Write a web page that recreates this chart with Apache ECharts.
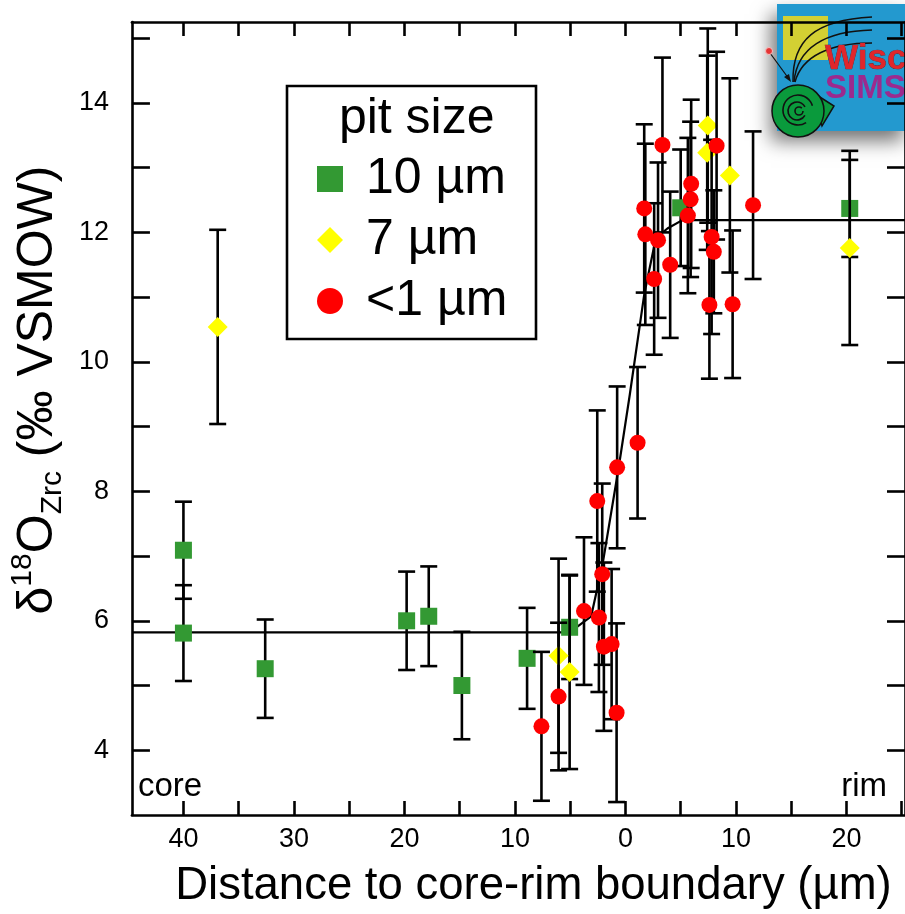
<!DOCTYPE html>
<html>
<head>
<meta charset="utf-8">
<script src="https://cdn.jsdelivr.net/npm/echarts@6/dist/echarts.min.js"></script>
<style>
html,body{margin:0;padding:0;background:#fff;}
#c{width:905px;height:914px;}
</style>
</head>
<body>
<div id="c"></div>
<script>
// ---------- data (signed distance: negative = core side, positive = rim side) ----------
const g10X = [-40.0, -40.0, -32.6, -19.8, -17.8, -14.8, -8.9, -5.05, 5.0, 20.3];
const g10Y = [7.09, 5.81, 5.26, 6.00, 6.07, 5.00, 5.42, 5.90, 12.38, 12.37];
const g10E = [0.75, 0.74, 0.76, 0.76, 0.77, 0.83, 0.78, 0.80, 0.90, 0.75];

const y7X = [-36.9, -6.05, -5.05, 7.45, 7.4, 9.45, 20.3];
const y7Y = [10.54, 5.46, 5.21, 13.65, 13.23, 12.88, 11.76];
const y7E = [1.5, 1.5, 1.5, 1.5, 1.5, 1.5, 1.5];

const r1X = [-7.6, -6.05, -3.75, -2.55, -2.1, -2.4, -1.95, -1.25, -0.8, -0.75, 1.1,
             1.7, 1.8, 3.35, 2.95, 2.6, 4.05, 5.65, 5.9, 5.95, 8.25, 7.8, 8.0, 7.6, 9.7, 11.55];
const r1Y = [4.37, 4.83, 6.15, 7.85, 6.72, 6.05, 5.60, 5.64, 4.58, 8.37, 8.75,
             12.37, 11.97, 13.35, 11.88, 11.28, 11.50, 12.26, 12.51, 12.75, 13.34, 11.93, 11.70, 10.88, 10.89, 12.42];
const r1E = [1.15, 1.14, 1.14, 1.4, 1.4, 1.15, 1.3, 1.16, 1.38, 1.25, 1.17,
             1.3, 1.4, 1.35, 1.2, 1.17, 1.13, 1.2, 1.2, 1.3, 1.45, 1.5, 0.95, 1.14, 1.14, 1.14];

// model curve through the boundary
const fitX = [-44.66, -5.05, -3.1, -2.05, -0.6, 0.4, 1.7, 2.75, 3.8, 5.15, 25.3];
const fitY = [5.82, 5.82, 6.07, 6.89, 8.38, 9.5, 11.04, 11.91, 12.06, 12.19, 12.19];

// axis ticks / labels
const xTickValues = [-40, -35, -30, -25, -20, -15, -10, -5, 0, 5, 10, 15, 20, 25];
const xLabelValues = [-40, -30, -20, -10, 0, 10, 20];
const yTickValues = [4, 5, 6, 7, 8, 9, 10, 11, 12, 13, 14, 15];
const yLabelValues = [4, 6, 8, 10, 12, 14];

const seriesNames = ['10 µm', '7 µm', '<1 µm'];

// ---------- chart ----------
const FONT = "'Liberation Sans', Arial, Helvetica, sans-serif";
const chart = echarts.init(document.getElementById('c'), null, {renderer: 'canvas'});

function errData(xs, ys, es) {
  return xs.map((x, i) => [x, ys[i] - es[i], ys[i] + es[i]]);
}
function ptData(xs, ys) {
  return xs.map((x, i) => [x, ys[i]]);
}
function renderErr(params, api) {
  const x = api.value(0), lo = api.value(1), hi = api.value(2);
  const p1 = api.coord([x, hi]);
  const p2 = api.coord([x, lo]);
  const hw = 8.5;
  const st = {stroke: '#000', lineWidth: 2.6};
  return {
    type: 'group',
    children: [
      {type: 'line', shape: {x1: p1[0], y1: p1[1], x2: p2[0], y2: p2[1]}, style: st},
      {type: 'line', shape: {x1: p1[0] - hw, y1: p1[1], x2: p1[0] + hw, y2: p1[1]}, style: st},
      {type: 'line', shape: {x1: p2[0] - hw, y1: p2[1], x2: p2[0] + hw, y2: p2[1]}, style: st}
    ]
  };
}
function errSeries(name, xs, ys, es, z) {
  return {
    type: 'custom', name: name, renderItem: renderErr,
    data: errData(xs, ys, es), encode: {x: 0, y: [1, 2]},
    z: z, silent: true, xAxisIndex: 0, yAxisIndex: 0
  };
}

const axisLineStyle = {color: '#000', width: 2.6};

const option = {
  backgroundColor: '#fff',
  animation: false,
  textStyle: {fontFamily: FONT, color: '#000'},
  grid: {left: 127, top: 22, width: 779, height: 798, containLabel: false},
  xAxis: [
    {
      type: 'value', position: 'bottom', min: -44.66, max: 25.3,
      axisLine: {show: true, onZero: false, lineStyle: axisLineStyle},
      axisTick: {show: true, inside: true, length: 14, lineStyle: axisLineStyle, customValues: xTickValues},
      axisLabel: {
        show: true, customValues: xLabelValues, margin: 11,
        fontSize: 27, color: '#000', fontFamily: FONT,
        formatter: function (v) { return String(Math.abs(v)); }
      },
      splitLine: {show: false},
      name: 'Distance to core-rim boundary (µm)',
      nameLocation: 'middle', nameGap: 48,
      nameTextStyle: {fontSize: 45.5, color: '#000', fontFamily: FONT, padding: [0, 0, 0, 30]}
    },
    {
      type: 'value', position: 'top', min: -44.66, max: 25.3,
      axisLine: {show: true, onZero: false, lineStyle: axisLineStyle},
      axisTick: {show: true, inside: true, length: 14, lineStyle: axisLineStyle, customValues: xTickValues},
      axisLabel: {show: false},
      splitLine: {show: false}
    }
  ],
  yAxis: [
    {
      type: 'value', position: 'left', min: 3, max: 15.25,
      axisLine: {show: true, onZero: false, lineStyle: axisLineStyle},
      axisTick: {show: true, inside: true, length: 18, lineStyle: axisLineStyle, customValues: yTickValues},
      axisLabel: {show: true, customValues: yLabelValues, margin: 23, fontSize: 27, color: '#000', fontFamily: FONT},
      splitLine: {show: false},
      name: '{a|δ}{sup|18}{a|O}{sub|Zrc}{a| (‰ VSMOW)}',
      nameLocation: 'middle', nameRotate: 90, nameGap: 50,
      nameTextStyle: {
        fontSize: 50, color: '#000', fontFamily: FONT, padding: [0, 0, 0, 57],
        rich: {
          a: {fontSize: 50, lineHeight: 60, fontFamily: FONT, color: '#000', verticalAlign: 'middle'},
          sup: {fontSize: 30, lineHeight: 30, fontFamily: FONT, color: '#000', verticalAlign: 'top'},
          sub: {fontSize: 30, lineHeight: 30, fontFamily: FONT, color: '#000', verticalAlign: 'bottom'}
        }
      }
    },
    {
      type: 'value', position: 'right', min: 3, max: 15.25,
      axisLine: {show: true, onZero: false, lineStyle: axisLineStyle},
      axisTick: {show: true, inside: true, length: 18, lineStyle: axisLineStyle, customValues: yTickValues},
      axisLabel: {show: false},
      splitLine: {show: false}
    }
  ],
  legend: {
    orient: 'vertical', left: 317, top: 154, padding: 0,
    itemWidth: 26, itemHeight: 26, itemGap: 11,
    selectedMode: false, z: 10,
    data: [
      {name: seriesNames[0], icon: 'rect'},
      {name: seriesNames[1], icon: 'diamond'},
      {name: seriesNames[2], icon: 'circle'}
    ],
    textStyle: {fontSize: 50, color: '#000', fontFamily: FONT, padding: [0, 0, 0, 18]}
  },
  series: [
    {
      type: 'line', name: 'model', data: ptData(fitX, fitY),
      showSymbol: false, symbol: 'none', lineStyle: {color: '#000', width: 2.2},
      z: 1, silent: true, xAxisIndex: 0, yAxisIndex: 0
    },
    errSeries('10 µm err', g10X, g10Y, g10E, 2),
    {
      type: 'scatter', name: seriesNames[0], data: ptData(g10X, g10Y),
      symbol: 'rect', symbolSize: 17, itemStyle: {color: '#339933', opacity: 1},
      z: 3, xAxisIndex: 0, yAxisIndex: 0
    },
    errSeries('7 µm err', y7X, y7Y, y7E, 4),
    {
      type: 'scatter', name: seriesNames[1], data: ptData(y7X, y7Y),
      symbol: 'diamond', symbolSize: 20, itemStyle: {color: '#ffff00', opacity: 1},
      z: 5, xAxisIndex: 0, yAxisIndex: 0
    },
    errSeries('<1 µm err', r1X, r1Y, r1E, 6),
    {
      type: 'scatter', name: seriesNames[2], data: ptData(r1X, r1Y),
      symbol: 'circle', symbolSize: 16, itemStyle: {color: '#ff0000', opacity: 1},
      z: 7, xAxisIndex: 0, yAxisIndex: 0
    }
  ],
  graphic: [
    // legend frame and title
    {type: 'rect', z: 8, shape: {x: 287, y: 86, width: 249, height: 253},
     style: {fill: '#fff', stroke: '#000', lineWidth: 2.6}},
    {type: 'text', z: 11, style: {text: 'pit size', x: 416.7, y: 119.4, fontSize: 50, fontFamily: FONT,
      fill: '#000', align: 'center', verticalAlign: 'middle', textAlign: 'center', textVerticalAlign: 'middle'}},
    // core / rim annotations
    {type: 'text', z: 11, style: {text: 'core', x: 138, y: 786.6, fontSize: 33, fontFamily: FONT,
      fill: '#000', align: 'left', verticalAlign: 'middle', textAlign: 'left', textVerticalAlign: 'middle'}},
    {type: 'text', z: 11, style: {text: 'rim', x: 887, y: 786.6, fontSize: 33, fontFamily: FONT,
      fill: '#000', align: 'right', verticalAlign: 'middle', textAlign: 'right', textVerticalAlign: 'middle'}},
    // WiscSIMS logo (approximation)
    {type: 'group', z: 20, children: [
      {type: 'rect', shape: {x: 777, y: 4, width: 132, height: 127},
       style: {fill: '#2399cf', shadowBlur: 18, shadowColor: 'rgba(0,0,0,0.55)', shadowOffsetX: -6, shadowOffsetY: 10}},
      {type: 'rect', shape: {x: 783, y: 16, width: 45, height: 44}, style: {fill: '#d3d033'}},
      {type: 'bezierCurve', shape: {x1: 793, y1: 82, cpx1: 792, cpy1: 40, cpx2: 815, cpy2: 20, x2: 872, y2: 17},
       style: {stroke: '#111', lineWidth: 1.5, fill: 'none'}},
      {type: 'bezierCurve', shape: {x1: 794, y1: 82, cpx1: 797, cpy1: 48, cpx2: 825, cpy2: 31, x2: 872, y2: 30},
       style: {stroke: '#111', lineWidth: 1.5, fill: 'none'}},
      {type: 'bezierCurve', shape: {x1: 795, y1: 82, cpx1: 802, cpy1: 56, cpx2: 830, cpy2: 43, x2: 872, y2: 43},
       style: {stroke: '#111', lineWidth: 1.5, fill: 'none'}},
      {type: 'line', shape: {x1: 770, y1: 53, x2: 789, y2: 79}, style: {stroke: '#111', lineWidth: 1.2}},
      {type: 'polygon', shape: {points: [[791, 82], [784, 77], [789, 74]]}, style: {fill: '#111'}},
      {type: 'circle', shape: {cx: 769, cy: 51, r: 3.5}, style: {fill: '#e53535', stroke: '#f5c0c0', lineWidth: 1}},
      {type: 'polygon', shape: {points: [[812, 92], [834, 106], [822, 126]]},
       style: {fill: '#0a9a3c', stroke: '#111', lineWidth: 1.5}},
      {type: 'circle', shape: {cx: 798, cy: 111, r: 26}, style: {fill: '#0a9a3c', stroke: '#111', lineWidth: 1.5}},
      {type: 'arc', shape: {cx: 799, cy: 111, r: 4, startAngle: 0, endAngle: 5.5}, style: {fill: 'none', stroke: '#111', lineWidth: 1.6}},
      {type: 'arc', shape: {cx: 797, cy: 111, r: 9, startAngle: 0.5, endAngle: 5.8}, style: {fill: 'none', stroke: '#111', lineWidth: 1.6}},
      {type: 'arc', shape: {cx: 798, cy: 110, r: 15, startAngle: 1.0, endAngle: 6.0}, style: {fill: 'none', stroke: '#111', lineWidth: 1.6}},
      {type: 'text', style: {text: 'Wisc', x: 825, y: 59.6, fontSize: 35, fontWeight: 'bold', fontFamily: FONT,
        fill: '#e0262b', stroke: '#6a1a1a', lineWidth: 0.6, align: 'left', verticalAlign: 'middle',
        textAlign: 'left', textVerticalAlign: 'middle'}},
      {type: 'text', style: {text: 'SIMS', x: 825, y: 88.6, fontSize: 33, fontWeight: 'bold', fontFamily: FONT,
        fill: '#9c2a8e', align: 'left', verticalAlign: 'middle', textAlign: 'left', textVerticalAlign: 'middle'}}
    ]}
  ]
};
chart.setOption(option);
</script>
</body>
</html>
